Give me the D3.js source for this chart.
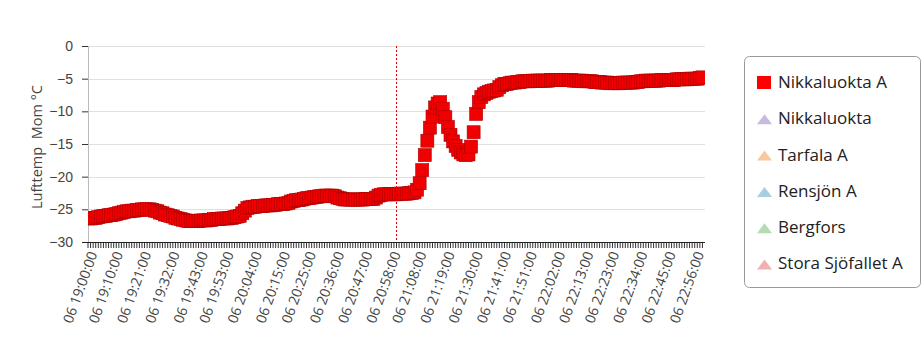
<!DOCTYPE html>
<html lang="sv">
<head>
  <meta charset="UTF-8" />
  <title>Lufttemp Mom</title>
  <script src="https://d3js.org/d3.v7.min.js"></script>
  <style>
    html, body {
      margin: 0;
      background: #fff;
      font-family: "Open Sans", "Noto Sans", sans-serif;
    }
    svg { display: block; }
    .grid line { stroke: #e0e0e0; shape-rendering: crispEdges; }
    .tick-label { font-size: 14px; fill: #444; }
    .legend-text { font-size: 17px; fill: #222; }
  </style>
</head>
<body>
  <svg id="chart" width="923" height="346"></svg>
  <script>
    // one reading per minute, starting at 06 19:00:00
    const startLabel = '06 19:00:00';
    const endLabel = '06 23:00:00';
    const tempValues = [
      -26.4,-26.4,-26.3,-26.3,-26.2,-26.1,-26.0,-26.0,-25.9,-25.9,
      -25.8,-25.7,-25.6,-25.5,-25.4,-25.3,-25.3,-25.2,-25.2,-25.1,
      -25.1,-25.0,-25.0,-25.0,-25.0,-25.1,-25.2,-25.3,-25.5,-25.6,
      -25.8,-25.9,-26.0,-26.1,-26.3,-26.4,-26.5,-26.6,-26.7,-26.8,
      -26.8,-26.8,-26.8,-26.8,-26.7,-26.7,-26.7,-26.6,-26.6,-26.5,
      -26.5,-26.5,-26.4,-26.4,-26.4,-26.3,-26.3,-26.2,-26.1,-26.0,
      -25.6,-25.2,-24.8,-24.7,-24.6,-24.6,-24.5,-24.5,-24.5,-24.4,
      -24.4,-24.4,-24.3,-24.3,-24.2,-24.2,-24.2,-24.1,-24.0,-23.8,
      -23.7,-23.6,-23.6,-23.5,-23.4,-23.3,-23.3,-23.2,-23.1,-23.1,
      -23.0,-23.0,-22.9,-22.9,-22.9,-22.9,-23.0,-23.2,-23.3,-23.4,
      -23.5,-23.5,-23.5,-23.5,-23.5,-23.5,-23.5,-23.5,-23.4,-23.4,
      -23.4,-23.4,-23.2,-22.9,-22.8,-22.7,-22.7,-22.7,-22.7,-22.7,
      -22.7,-22.6,-22.6,-22.6,-22.6,-22.5,-22.5,-22.4,-22.0,-21.0,
      -19.0,-16.7,-14.5,-12.5,-10.8,-9.4,-8.8,-8.6,-9.6,-10.9,
      -12.4,-13.6,-14.6,-15.3,-15.9,-16.3,-16.6,-16.7,-16.6,-15.4,
      -13.2,-10.4,-8.6,-7.8,-7.4,-7.2,-7.0,-6.9,-6.8,-6.7,
      -6.3,-6.0,-5.8,-5.8,-5.7,-5.6,-5.6,-5.5,-5.5,-5.4,
      -5.4,-5.4,-5.4,-5.3,-5.3,-5.3,-5.3,-5.3,-5.3,-5.3,
      -5.2,-5.2,-5.2,-5.2,-5.2,-5.2,-5.2,-5.2,-5.2,-5.3,
      -5.3,-5.3,-5.3,-5.4,-5.4,-5.4,-5.4,-5.5,-5.5,-5.5,
      -5.6,-5.6,-5.6,-5.7,-5.7,-5.7,-5.7,-5.7,-5.6,-5.6,
      -5.6,-5.6,-5.6,-5.5,-5.5,-5.4,-5.4,-5.3,-5.3,-5.3,
      -5.3,-5.3,-5.3,-5.2,-5.2,-5.2,-5.2,-5.2,-5.2,-5.1,
      -5.1,-5.1,-5.1,-5.1,-5.0,-5.0,-5.0,-5.0,-4.9,-4.8
    ];
    const xTickLabels = [
      '06 19:00:00','06 19:10:00','06 19:21:00','06 19:32:00','06 19:43:00','06 19:53:00',
      '06 20:04:00','06 20:15:00','06 20:25:00','06 20:36:00','06 20:47:00','06 20:58:00',
      '06 21:08:00','06 21:19:00','06 21:30:00','06 21:41:00','06 21:51:00','06 22:02:00',
      '06 22:13:00','06 22:23:00','06 22:34:00','06 22:45:00','06 22:56:00'
    ];
    const yTicks = [0, -5, -10, -15, -20, -25, -30];
    const markerLabel = '06 21:00:00';
    const seriesNames = ['Nikkaluokta A', 'Nikkaluokta', 'Tarfala A', 'Rensjön A', 'Bergfors', 'Stora Sjöfallet A'];

    const legendColors = {
      'Nikkaluokta A': '#ff0000',
      'Nikkaluokta': '#c6badf',
      'Tarfala A': '#f8c99c',
      'Rensjön A': '#a9cde1',
      'Bergfors': '#b5dbb1',
      'Stora Sjöfallet A': '#f2b1b1'
    };

    const plot = { left: 88, right: 705, top: 46, bottom: 242 };
    const parse = d3.timeParse('%d %H:%M:%S');
    const t0 = parse(startLabel);
    const data = tempValues.map((v, i) => ({ t: d3.timeMinute.offset(t0, i), v }));

    const x = d3.scaleTime()
      .domain([t0, parse(endLabel)])
      .range([plot.left, plot.right]);
    const y = d3.scaleLinear()
      .domain([-30, 0])
      .range([plot.bottom, plot.top]);

    const svg = d3.select('#chart');

    svg.append('defs').append('clipPath').attr('id', 'plot-clip')
      .append('rect')
      .attr('x', plot.left).attr('y', plot.top - 8)
      .attr('width', plot.right - plot.left)
      .attr('height', plot.bottom - plot.top + 8);

    // horizontal grid
    svg.append('g').attr('class', 'grid')
      .selectAll('line')
      .data(yTicks.filter(d => d > -30))
      .join('line')
      .attr('x1', plot.left).attr('x2', plot.right)
      .attr('y1', d => Math.round(y(d)) + 0.5).attr('y2', d => Math.round(y(d)) + 0.5);

    // y axis
    const yAxis = svg.append('g')
      .attr('transform', `translate(${plot.left},0)`)
      .call(d3.axisLeft(y).tickValues(yTicks).tickSize(6).tickPadding(9).tickFormat(d3.format('d')));
    yAxis.select('.domain').attr('stroke', '#bbb');
    yAxis.selectAll('.tick line').attr('stroke', '#333');
    yAxis.selectAll('.tick text').attr('class', 'tick-label');

    svg.append('text')
      .attr('transform', `translate(42,${(plot.top + plot.bottom) / 2 + 3}) rotate(-90)`)
      .attr('text-anchor', 'middle')
      .style('font-size', '14.5px')
      .style('fill', '#444')
      .style('white-space', 'pre')
      .text('Lufttemp  Mom °C');

    // dense minute ticks on x axis
    const minuteTicks = d3.timeMinute.range(t0, parse(endLabel));
    svg.append('g')
      .selectAll('line')
      .data(minuteTicks)
      .join('line')
      .attr('x1', d => x(d)).attr('x2', d => x(d))
      .attr('y1', plot.bottom).attr('y2', plot.bottom + 6)
      .attr('stroke', '#333')
      .attr('stroke-width', 1);

    svg.append('line')
      .attr('x1', plot.left - 6).attr('x2', plot.right)
      .attr('y1', plot.bottom + 0.5).attr('y2', plot.bottom + 0.5)
      .attr('stroke', '#222');

    svg.append('g')
      .selectAll('text')
      .data(xTickLabels)
      .join('text')
      .attr('class', 'tick-label')
      .attr('text-anchor', 'end')
      .attr('transform', d => `translate(${x(parse(d)) + 5},${plot.bottom + 10}) rotate(-70)`)
      .attr('dy', '0.35em')
      .text(d => d);

    // series markers
    svg.append('g')
      .attr('clip-path', 'url(#plot-clip)')
      .selectAll('rect')
      .data(data)
      .join('rect')
      .attr('x', d => x(d.t) - 6.5)
      .attr('y', d => y(d.v) - 6.5)
      .attr('width', 13)
      .attr('height', 13)
      .attr('fill', '#f00000')
      .attr('stroke', '#b00000')
      .attr('stroke-width', 0.6);

    // time marker
    svg.append('line')
      .attr('x1', x(parse(markerLabel))).attr('x2', x(parse(markerLabel)))
      .attr('y1', plot.top).attr('y2', plot.bottom)
      .attr('stroke', '#e00000')
      .attr('stroke-dasharray', '2,2');

    // legend
    const legend = svg.append('g');
    legend.append('rect')
      .attr('x', 744.5).attr('y', 56.5)
      .attr('width', 176).attr('height', 231)
      .attr('rx', 5)
      .attr('fill', '#fff')
      .attr('stroke', '#999');

    const items = legend.selectAll('g.item')
      .data(seriesNames)
      .join('g')
      .attr('class', 'item')
      .attr('transform', (d, i) => `translate(757,${82 + i * 36.3})`);

    items.filter((d, i) => i === 0).append('rect')
      .attr('x', 0).attr('y', -6).attr('width', 14).attr('height', 13)
      .attr('fill', d => legendColors[d]);
    items.filter((d, i) => i > 0).append('path')
      .attr('d', 'M0,6 L7.5,-4 L15,6 Z')
      .attr('fill', d => legendColors[d]);

    items.append('text')
      .attr('class', 'legend-text')
      .attr('x', 21)
      .attr('dy', '0.35em')
      .text(d => d);
  </script>
</body>
</html>
